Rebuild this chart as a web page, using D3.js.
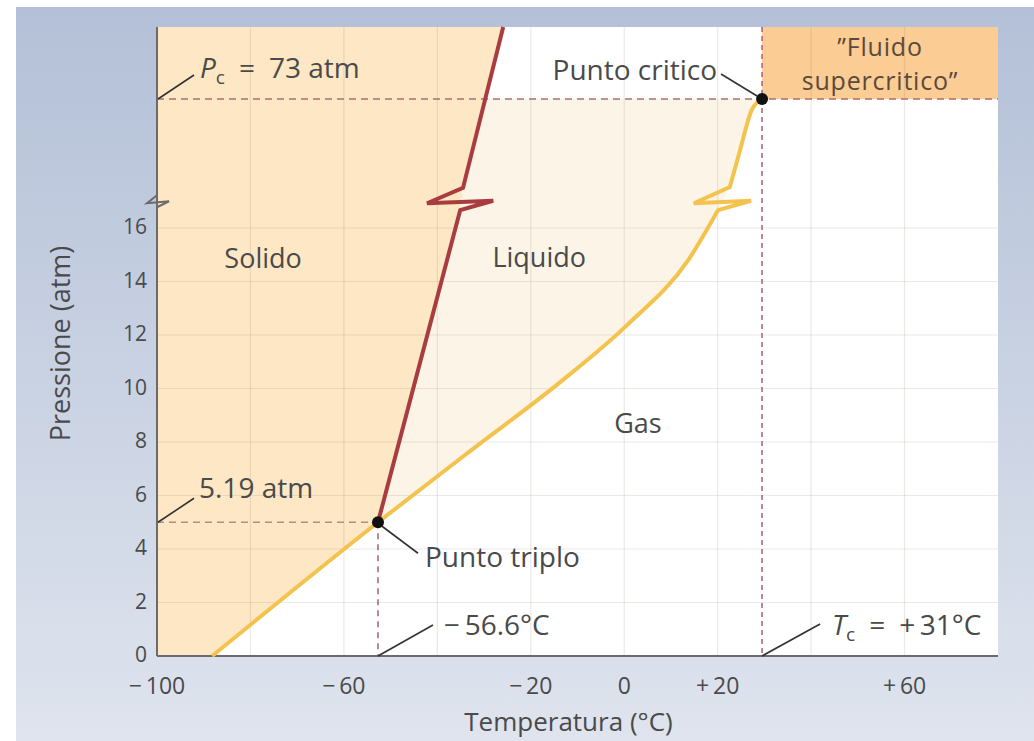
<!DOCTYPE html>
<html>
<head>
<meta charset="utf-8">
<script src="https://cdn.jsdelivr.net/npm/d3@7"></script>
<style>
  html, body { margin: 0; padding: 0; background: #fff; }
  svg text { font-family: "Open Sans", "Noto Sans", sans-serif; fill: #4a4a4a; }
</style>
</head>
<body>
<div id="chart"></div>
<script>
// Phase diagram of CO2 (schematic)
const tempTicks = [-100, -60, -20, 0, 20, 60];
const tempTickLabels = ["−\u2009100", "−\u200960", "−\u200920", "0", "+\u200920", "+\u200960"];
const tempGrid = [-80, -60, -40, -20, 0, 20, 40, 60];
const pressureTicks = [0, 2, 4, 6, 8, 10, 12, 14, 16];
const pressureGrid = [2, 4, 6, 8, 10, 12, 14, 16];

// break of the pressure axis and its compressed upper part
const pressureBreak = 17;
const pressureCritical = 73;
const pressureTop = 112.4;

// points as drawn in the figure (the figure is not to scale)
const triplePoint = [-52.7, 5.0];
const criticalPoint = [29.5, 73];

// melting curve (solid / liquid), split at the axis break
const meltingLower = [[-52.7, 5.0], [-35.1, 16.67]];
const meltingUpper = [[-34.5, 24.3], [-25.9, 112.4]];

// sublimation + vaporization curve, split at the axis break
const sublimationCurve = [[-88.2, 0], [-52.7, 5.0]];
const vaporLower = [[-52.7, 5.0], [-33.0, 7.66], [-13.7, 10.24], [0.6, 12.37], [13.7, 14.8], [20.1, 16.67]];
const vaporUpper = [[22.6, 24.8], [24.8, 45.1], [27.3, 67.0], [29.5, 73]];

const regionLabels = [
  { text: "Solido", t: -77.3, p: 14.5 },
  { text: "Liquido", t: -18.2, p: 14.54 },
  { text: "Gas", t: 2.95, p: 8.34 },
];

const width = 1034;
const height = 741;
const margin = { top: 27, right: 36, bottom: 85, left: 157 };
const labelSize = 28;

const svg = d3.select("#chart")
  .append("svg")
  .attr("width", width)
  .attr("height", height);

// panel background
const defs = svg.append("defs");
const grad = defs.append("linearGradient")
  .attr("id", "panel-bg")
  .attr("x1", 0).attr("y1", 0).attr("x2", 0).attr("y2", 1);
grad.append("stop").attr("offset", "0%").attr("stop-color", "#b3c0d7");
grad.append("stop").attr("offset", "100%").attr("stop-color", "#dfe4ee");

svg.append("rect")
  .attr("x", 16).attr("y", 7)
  .attr("width", width - 16).attr("height", height - 7)
  .attr("fill", "url(#panel-bg)");

const x = d3.scaleLinear()
  .domain([-100, 80])
  .range([margin.left, width - margin.right]);

const plotBottom = height - margin.bottom;
const pxPerAtm = (plotBottom - 228) / 16;
const y = d3.scaleLinear()
  .domain([0, pressureBreak, pressureCritical, pressureTop])
  .range([plotBottom, plotBottom - pressureBreak * pxPerAtm, 99, margin.top]);

const px = (d) => [x(d[0]), y(d[1])];

// white plot area
svg.append("rect")
  .attr("x", x(-100)).attr("y", y(pressureTop))
  .attr("width", x(80) - x(-100))
  .attr("height", y(0) - y(pressureTop))
  .attr("fill", "#ffffff");

const linear = d3.line().x((d) => x(d[0])).y((d) => y(d[1]));
const smooth = d3.line().x((d) => x(d[0])).y((d) => y(d[1])).curve(d3.curveMonotoneX);

// red line crossing the critical pressure (used to close the liquid area)
const redAtPc = [
  meltingUpper[0][0] + (pressureCritical - meltingUpper[0][1]) /
    (meltingUpper[1][1] - meltingUpper[0][1]) * (meltingUpper[1][0] - meltingUpper[0][0]),
  pressureCritical,
];

// solid region
const solidPts = [[-100, 0], ...sublimationCurve, ...meltingLower, ...meltingUpper, [-100, pressureTop]];
svg.append("path")
  .attr("d", linear(solidPts) + "Z")
  .attr("fill", "#fde7c4");

// liquid region
const liquidPath =
  smooth(vaporLower) +
  smooth(vaporUpper).replace(/^M/, "L") +
  linear([redAtPc, meltingUpper[0], meltingLower[1], triplePoint]).replace(/^M/, "L") + "Z";
svg.append("path")
  .attr("d", liquidPath)
  .attr("fill", "#fdf4e8");

// supercritical fluid region
svg.append("rect")
  .attr("x", x(criticalPoint[0]))
  .attr("y", y(pressureTop))
  .attr("width", x(80) - x(criticalPoint[0]))
  .attr("height", y(pressureCritical) - y(pressureTop))
  .attr("fill", "#fbcc94");

// grid
const grid = svg.append("g")
  .attr("stroke", "rgb(140,120,100)")
  .attr("stroke-opacity", 0.16)
  .attr("stroke-width", 1.2);

grid.selectAll("line.v")
  .data(tempGrid)
  .enter()
  .append("line")
  .attr("class", "v")
  .attr("x1", (d) => x(d)).attr("x2", (d) => x(d))
  .attr("y1", y(pressureTop)).attr("y2", y(0));

grid.selectAll("line.h")
  .data(pressureGrid)
  .enter()
  .append("line")
  .attr("class", "h")
  .attr("x1", x(-100)).attr("x2", x(80))
  .attr("y1", (d) => y(d)).attr("y2", (d) => y(d));

// dashed reference lines
const dashed = svg.append("g")
  .attr("stroke", "#a9706c")
  .attr("stroke-width", 1.6)
  .attr("fill", "none");

dashed.append("line")
  .attr("x1", x(-100)).attr("x2", x(80))
  .attr("y1", y(pressureCritical)).attr("y2", y(pressureCritical))
  .attr("stroke-dasharray", "7,5");

dashed.append("line")
  .attr("x1", x(criticalPoint[0])).attr("x2", x(criticalPoint[0]))
  .attr("y1", y(pressureTop)).attr("y2", y(0))
  .attr("stroke", "#a86a86")
  .attr("stroke-dasharray", "5,4");

dashed.append("line")
  .attr("x1", x(-100)).attr("x2", x(triplePoint[0]))
  .attr("y1", y(triplePoint[1])).attr("y2", y(triplePoint[1]))
  .attr("stroke", "#b38e82")
  .attr("stroke-dasharray", "7,5");

dashed.append("line")
  .attr("x1", x(triplePoint[0])).attr("x2", x(triplePoint[0]))
  .attr("y1", y(triplePoint[1])).attr("y2", y(0))
  .attr("stroke", "#a86a86")
  .attr("stroke-dasharray", "6,5");

// axes lines
svg.append("line")
  .attr("x1", x(-100)).attr("x2", x(80))
  .attr("y1", y(0)).attr("y2", y(0))
  .attr("stroke", "#6b6b6b").attr("stroke-width", 2);

svg.append("line")
  .attr("x1", x(-100)).attr("x2", x(-100))
  .attr("y1", y(pressureTop)).attr("y2", y(0))
  .attr("stroke", "#6b6b6b").attr("stroke-width", 2);

// lightning-shaped break mark on a curve
const breakY = y(pressureBreak);
function boltPath(lowerEnd, upperStart) {
  const lo = px(lowerEnd);
  const up = px(upperStart);
  return d3.line()([
    lo,
    [lo[0] + 33, breakY - 0.5],
    [up[0] - 36, breakY + 2],
    up,
  ]);
}

// axis break
svg.append("path")
  .attr("d", d3.line()([
    [x(-100), breakY + 6],
    [x(-100) + 12, breakY],
    [x(-100) - 10, breakY + 2],
    [x(-100), breakY - 6],
  ]))
  .attr("fill", "none")
  .attr("stroke", "#6b6b6b")
  .attr("stroke-width", 2);

// yellow curve: sublimation + vaporization
const vaporFull = [sublimationCurve[0], ...vaporLower];
svg.append("path")
  .attr("d", smooth(vaporFull) +
    boltPath(vaporLower[vaporLower.length - 1], vaporUpper[0]).replace(/^M/, "L") +
    smooth(vaporUpper).replace(/^M/, "L"))
  .attr("fill", "none")
  .attr("stroke", "#f3c34e")
  .attr("stroke-width", 4);

// red melting curve
svg.append("path")
  .attr("d", linear(meltingLower) +
    boltPath(meltingLower[1], meltingUpper[0]).replace(/^M/, "L") +
    linear(meltingUpper).replace(/^M/, "L"))
  .attr("fill", "none")
  .attr("stroke", "#a83c3f")
  .attr("stroke-width", 4);

// leader lines
const leaders = [
  { from: [x(-100) + 1, y(pressureCritical)], d: [36, -24] },
  { from: [x(criticalPoint[0]) - 5, y(criticalPoint[1]) - 3], d: [-36, -22] },
  { from: [x(-100) + 1, y(triplePoint[1])], d: [36, -24] },
  { from: [x(triplePoint[0]) + 4, y(triplePoint[1]) + 4], d: [36, 27] },
  { from: [x(triplePoint[0]), y(0)], d: [55, -31] },
  { from: [x(criticalPoint[0]), y(0)], d: [58, -32] },
];
svg.selectAll("line.leader")
  .data(leaders)
  .enter()
  .append("line")
  .attr("class", "leader")
  .attr("x1", (d) => d.from[0]).attr("y1", (d) => d.from[1])
  .attr("x2", (d) => d.from[0] + d.d[0]).attr("y2", (d) => d.from[1] + d.d[1])
  .attr("stroke", "#333")
  .attr("stroke-width", 1.6);

// points
svg.selectAll("circle.pt")
  .data([triplePoint, criticalPoint])
  .enter()
  .append("circle")
  .attr("class", "pt")
  .attr("cx", (d) => x(d[0]))
  .attr("cy", (d) => y(d[1]))
  .attr("r", 6)
  .attr("fill", "#111");

// region labels
svg.selectAll("text.region")
  .data(regionLabels)
  .enter()
  .append("text")
  .attr("class", "region")
  .attr("x", (d) => x(d.t))
  .attr("y", (d) => y(d.p))
  .attr("text-anchor", "middle")
  .attr("font-size", 27)
  .text((d) => d.text);

// supercritical label
const fluidX = (x(criticalPoint[0]) + x(80)) / 2;
const fluidLines = ["”Fluido", "supercritico”"];
svg.selectAll("text.fluid")
  .data(fluidLines)
  .enter()
  .append("text")
  .attr("class", "fluid")
  .attr("x", fluidX)
  .attr("y", (d, i) => 56 + i * 34)
  .attr("text-anchor", "middle")
  .attr("font-size", 25)
  .attr("letter-spacing", 0.8)
  .style("fill", "#5a4a3a")
  .text((d) => d);

// annotation texts
svg.append("text")
  .attr("x", x(-100) + 43).attr("y", y(pressureCritical) - 21)
  .attr("font-size", labelSize)
  .call((t) => {
    t.append("tspan").attr("font-style", "italic").text("P");
    t.append("tspan").attr("font-size", 19).attr("dy", 6).text("c");
    t.append("tspan").attr("dy", -6).text("\u2002=\u200273 atm");
  });

svg.append("text")
  .attr("x", x(criticalPoint[0]) - 45).attr("y", y(criticalPoint[1]) - 19)
  .attr("text-anchor", "end")
  .attr("font-size", labelSize)
  .text("Punto critico");

svg.append("text")
  .attr("x", x(-100) + 42).attr("y", y(triplePoint[1]) - 24)
  .attr("font-size", labelSize)
  .text("5.19 atm");

svg.append("text")
  .attr("x", x(triplePoint[0]) + 47).attr("y", y(triplePoint[1]) + 45)
  .attr("font-size", labelSize)
  .text("Punto triplo");

svg.append("text")
  .attr("x", x(triplePoint[0]) + 66).attr("y", y(0) - 21)
  .attr("font-size", labelSize)
  .text("−\u200956.6°C");

svg.append("text")
  .attr("x", x(criticalPoint[0]) + 70).attr("y", y(0) - 21)
  .attr("font-size", labelSize)
  .call((t) => {
    t.append("tspan").attr("font-style", "italic").text("T");
    t.append("tspan").attr("font-size", 19).attr("dy", 6).text("c");
    t.append("tspan").attr("dy", -6).text("\u2002=\u2002+\u200931°C");
  });

// tick labels
svg.selectAll("text.ytick")
  .data(pressureTicks)
  .enter()
  .append("text")
  .attr("class", "ytick")
  .attr("x", x(-100) - 10)
  .attr("y", (d) => y(d))
  .attr("dy", "0.3em")
  .attr("text-anchor", "end")
  .attr("font-size", 21)
  .text((d) => d);

svg.selectAll("text.xtick")
  .data(tempTicks)
  .enter()
  .append("text")
  .attr("class", "xtick")
  .attr("x", (d) => x(d))
  .attr("y", y(0) + 38)
  .attr("text-anchor", "middle")
  .attr("font-size", 23)
  .text((d, i) => tempTickLabels[i]);

// axis titles
svg.append("text")
  .attr("x", (x(-100) + x(80)) / 2 - 9)
  .attr("y", y(0) + 75)
  .attr("text-anchor", "middle")
  .attr("font-size", 26)
  .text("Temperatura (°C)");

svg.append("text")
  .attr("transform", `translate(70, ${(y(0) + y(pressureTop)) / 2 + 2}) rotate(-90)`)
  .attr("text-anchor", "middle")
  .attr("font-size", 27)
  .text("Pressione (atm)");
</script>
</body>
</html>
